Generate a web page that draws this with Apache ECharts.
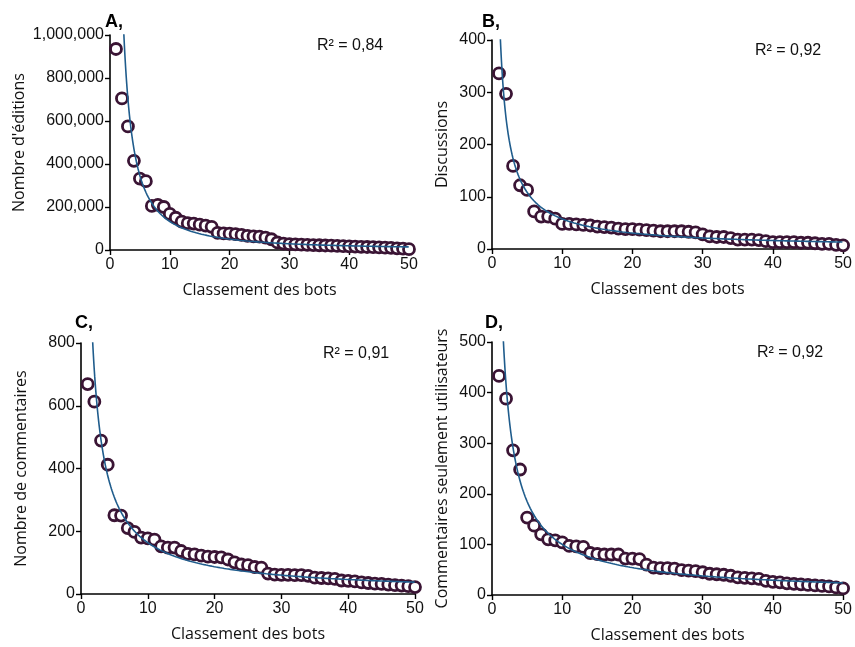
<!DOCTYPE html>
<html>
<head>
<meta charset="utf-8">
<script src="https://cdn.jsdelivr.net/npm/echarts@6/dist/echarts.min.js"></script>
<style>
  html, body { margin: 0; padding: 0; background: #ffffff; }
  #chart { width: 855px; height: 647px; }
</style>
</head>
<body>
<div id="chart"></div>
<script>
// Bot rank (1..50) on every panel
const ranks = Array.from({ length: 50 }, (_, i) => i + 1);

// A: number of edits per bot
const editsA = [935000, 705000, 575000, 415000, 332000, 320000, 205000, 210000, 200000, 168000,
  150000, 132000, 125000, 123000, 118000, 113000, 108000, 80000, 77000, 76000,
  74000, 70000, 66000, 63000, 62000, 58000, 50000, 35000, 30000, 27000,
  26000, 25000, 24000, 23000, 22000, 21000, 20000, 19000, 18000, 17000,
  16000, 15000, 14000, 13000, 12000, 11000, 10000, 8000, 6000, 4000];

// B: discussions per bot
const discussionsB = [336, 297, 159, 122, 113, 72, 62, 62, 58, 48,
  48, 47, 46, 45, 43, 42, 41, 39, 38, 38,
  37, 36, 35, 34, 34, 34, 34, 33, 32, 28,
  24, 23, 23, 21, 18, 18, 18, 17, 15, 13,
  13, 13, 13, 12, 12, 11, 10, 10, 8, 7];

// C: comments per bot
const commentsC = [669, 613, 489, 412, 251, 250, 210, 198, 180, 177,
  173, 152, 148, 148, 137, 128, 126, 122, 119, 118,
  117, 110, 101, 94, 92, 86, 84, 65, 62, 61,
  61, 60, 60, 58, 52, 51, 50, 48, 43, 42,
  40, 37, 35, 33, 32, 30, 28, 27, 25, 22];

// D: comments on user-only pages per bot
const userCommentsD = [433, 388, 286, 248, 153, 137, 120, 110, 108, 104,
  97, 96, 95, 83, 81, 80, 80, 80, 72, 72,
  71, 60, 54, 53, 53, 52, 49, 48, 47, 45,
  42, 41, 40, 38, 35, 34, 33, 32, 28, 26,
  25, 23, 22, 21, 20, 19, 18, 17, 15, 13];

const panelLetters = ['A,', 'B,', 'C,', 'D,'];
const yAxisNames = ["Nombre d'éditions", 'Discussions', 'Nombre de commentaires', 'Commentaires seulement utilisateurs'];
const xAxisName = 'Classement des bots';
const r2Labels = ['R² = 0,84', 'R² = 0,92', 'R² = 0,91', 'R² = 0,92'];
const yMax = [1000000, 400, 800, 500];
const yStep = [200000, 100, 200, 100];

const seriesValues = [editsA, discussionsB, commentsC, userCommentsD];

// Power-law trendline y = a * x^b, least squares on ln(y) vs ln(x)
function powerFit(xs, ys) {
  const n = xs.length;
  let sx = 0, sy = 0, sxx = 0, sxy = 0;
  for (let i = 0; i < n; i++) {
    const lx = Math.log(xs[i]), ly = Math.log(ys[i]);
    sx += lx; sy += ly; sxx += lx * lx; sxy += lx * ly;
  }
  const b = (n * sxy - sx * sy) / (n * sxx - sx * sx);
  const a = Math.exp((sy - b * sx) / n);
  return { a, b };
}

function trendPoints(fit) {
  const pts = [];
  for (let x = 1; x <= 50.0001; x += 0.05) pts.push([x, fit.a * Math.pow(x, fit.b)]);
  return pts;
}

function thousands(v) {
  return String(v).replace(/\B(?=(\d{3})+(?!\d))/g, ',');
}

// Plot rectangles for the four panels
const grids = [
  { left: 110, top: 35, width: 299, height: 215 },
  { left: 492, top: 40, width: 355, height: 209 },
  { left: 81, top: 343, width: 334, height: 251 },
  { left: 492, top: 342, width: 357, height: 253 }
];
const letterPos = [[105, 13], [482, 13], [75, 314], [485, 314]];

const tickFont = { fontFamily: 'Liberation Sans, Arial, sans-serif', fontSize: 16, color: '#111' };
const nameFont = { fontFamily: 'Open Sans, sans-serif', fontSize: 16, color: '#111' };
const axisLine = { show: true, onZero: false, lineStyle: { color: '#000', width: 1.6 } };
const axisTick = { show: true, inside: false, length: 5, lineStyle: { color: '#000', width: 1.4 } };

const xAxes = [], yAxes = [], series = [], titles = [];

grids.forEach((g, i) => {
  xAxes.push({
    type: 'value', gridIndex: i, min: 0, max: 50, interval: 10,
    name: xAxisName, nameLocation: 'middle', nameGap: 32, nameTextStyle: nameFont,
    axisLine, axisTick, splitLine: { show: false },
    axisLabel: Object.assign({ margin: 7 }, tickFont)
  });
  yAxes.push({
    type: 'value', gridIndex: i, min: 0, max: yMax[i], interval: yStep[i],
    name: yAxisNames[i], nameLocation: 'middle',
    nameGap: i === 0 ? 83 : (i === 2 ? 52 : 42), nameTextStyle: nameFont,
    axisLine, axisTick, splitLine: { show: false },
    axisLabel: Object.assign({ margin: 6, formatter: i === 0 ? thousands : null }, tickFont)
  });

  const vals = seriesValues[i];
  series.push({
    type: 'scatter', xAxisIndex: i, yAxisIndex: i,
    data: ranks.map((r, k) => [r, vals[k]]),
    symbol: 'circle', symbolSize: 11,
    itemStyle: { color: '#ffffff', borderColor: '#3a1434', borderWidth: 2.8, opacity: 1 },
    z: 2
  });
  const fit = powerFit(ranks, vals);
  series.push({
    type: 'line', xAxisIndex: i, yAxisIndex: i,
    data: trendPoints(fit), showSymbol: false, clip: true,
    lineStyle: { color: '#1f5c8c', width: 1.6 },
    silent: true, z: 3
  });

  titles.push({
    text: panelLetters[i], left: letterPos[i][0], top: letterPos[i][1],
    textStyle: { fontFamily: 'Liberation Sans, Arial, sans-serif', fontWeight: 'bold', fontSize: 18, color: '#000' },
    padding: 0
  });
  titles.push({
    text: r2Labels[i], left: g.left + g.width - 92, top: g.top + 3,
    textStyle: { fontFamily: 'Liberation Sans, Arial, sans-serif', fontWeight: 'normal', fontSize: 16, color: '#111' },
    padding: 0
  });
});

const chart = echarts.init(document.getElementById('chart'), null, { renderer: 'canvas' });
chart.setOption({
  backgroundColor: '#ffffff',
  animation: false,
  title: titles,
  grid: grids,
  xAxis: xAxes,
  yAxis: yAxes,
  series
});
</script>
</body>
</html>
